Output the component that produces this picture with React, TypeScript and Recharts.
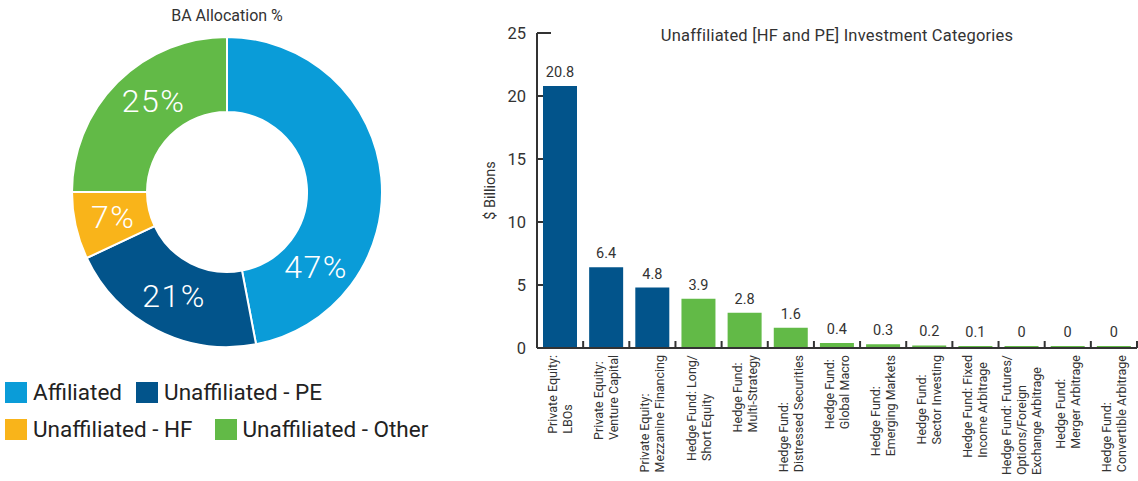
import { PieChart, Pie, Cell, BarChart, Bar, XAxis, YAxis, LabelList } from 'recharts'

const FONT = 'Roboto, "Open Sans", sans-serif'

const allocationNames = ['Affiliated', 'Unaffiliated - PE', 'Unaffiliated - HF', 'Unaffiliated - Other']
const allocationPcts = [47, 21, 7, 25]
const allocationColors = ['#0a9cd8', '#02548b', '#f9b41a', '#62ba47']

const categories = [
  'Private Equity:\nLBOs',
  'Private Equity:\nVenture Capital',
  'Private Equity:\nMezzanine Financing',
  'Hedge Fund: Long/\nShort Equity',
  'Hedge Fund:\nMulti-Strategy',
  'Hedge Fund:\nDistressed Securities',
  'Hedge Fund:\nGlobal Macro',
  'Hedge Fund:\nEmerging Markets',
  'Hedge Fund:\nSector Investing',
  'Hedge Fund: Fixed\nIncome Arbitrage',
  'Hedge Fund: Futures/\nOptions/Foreign\nExchange Arbitrage',
  'Hedge Fund:\nMerger Arbitrage',
  'Hedge Fund:\nConvertible Arbitrage',
]
const billions = [20.8, 6.4, 4.8, 3.9, 2.8, 1.6, 0.4, 0.3, 0.2, 0.1, 0, 0, 0]
const yTicks = [0, 5, 10, 15, 20, 25]

const pieData = allocationNames.map((name, i) => ({ name, value: allocationPcts[i] }))
const barData = categories.map((name, i) => ({ name, value: billions[i] }))

const PE_BLUE = '#02548b'
const HF_GREEN = '#62ba47'
const TICK_FONT = 12.5

let canvas: HTMLCanvasElement | null = null
function textWidth(s: string, font: string) {
  if (!canvas) canvas = document.createElement('canvas')
  const ctx = canvas.getContext('2d')!
  ctx.font = font
  return ctx.measureText(s).width
}

const RAD = Math.PI / 180
function PieLabel(props: any) {
  const { cx, cy, innerRadius, outerRadius, startAngle, endAngle, value } = props
  const span = Math.abs(startAngle - endAngle)
  const ang = endAngle + Math.min(span / 2, 39)
  const r = (innerRadius + outerRadius) / 2 - 1
  const x = cx + r * Math.cos(-ang * RAD)
  const y = cy + r * Math.sin(-ang * RAD)
  return (
    <text x={x} y={y} fill="#fff" fontSize={32} fontFamily={FONT} fontWeight={300} letterSpacing={1.5}
      textAnchor="middle" dominantBaseline="central">
      {value}%
    </text>
  )
}

function CategoryTick(props: any) {
  const { x, y, payload } = props
  const lines = String(payload.value).split('\n')
  const widest = Math.max(...lines.map((l) => textWidth(l, `${TICK_FONT}px Roboto`)))
  const bottom = y + 7 + widest
  const sep = x + (payload.offset ?? 23)
  return (
    <g>
      <line x1={sep} x2={sep} y1={y} y2={y - 7} stroke="#333" strokeWidth={2} />
      {lines.map((l, i) => {
        const lx = x + (i - (lines.length - 1) / 2) * 15
        return (
          <text key={i} x={lx} y={bottom} transform={`rotate(-90 ${lx} ${bottom})`}
            textAnchor="start" dominantBaseline="central" fontSize={TICK_FONT} fill="#333" fontFamily="Roboto">
            {l}
          </text>
        )
      })}
    </g>
  )
}

function ValueTick(props: any) {
  const { x, y, payload } = props
  const len = payload.value === yTicks[yTicks.length - 1] ? 14 : 6
  return (
    <g>
      <line x1={x} x2={x + len} y1={y} y2={y} stroke="#333" strokeWidth={2} />
      <text x={x - 11} y={y} textAnchor="end" dominantBaseline="central" fontSize={16.5} fill="#333" fontFamily={FONT}>
        {payload.value}
      </text>
    </g>
  )
}

function Legend() {
  const rows = [[0, 1], [2, 3]]
  const gaps = [14, 22]
  return (
    <div style={{ position: 'absolute', left: 5, top: 381, fontFamily: FONT, fontSize: 22.5, color: '#222' }}>
      {rows.map((row, r) => (
        <div key={r} style={{ display: 'flex', gap: gaps[r], height: 22, marginBottom: 15, alignItems: 'center' }}>
          {row.map((i) => (
            <div key={i} style={{ display: 'flex', alignItems: 'center', gap: 6 }}>
              <span style={{ width: 22, height: 21, background: allocationColors[i], display: 'inline-block' }} />
              <span style={{ lineHeight: '22px' }}>{allocationNames[i]}</span>
            </div>
          ))}
        </div>
      ))}
    </div>
  )
}

export default function App() {
  return (
    <div style={{ position: 'absolute', left: 0, top: 0, width: 1138, height: 481, background: '#fff', fontFamily: FONT }}>
      <div style={{ position: 'absolute', left: 0, top: 6, width: 454, textAlign: 'center', fontSize: 16, color: '#333' }}>
        BA Allocation %
      </div>
      <div style={{ position: 'absolute', left: 0, top: 0 }}>
        <PieChart width={460} height={370} margin={{ top: 0, right: 0, bottom: 0, left: 0 }}>
          <Pie data={pieData} dataKey="value" nameKey="name" cx={227} cy={192}
            innerRadius={80} outerRadius={155} startAngle={90} endAngle={-270}
            stroke="#fff" strokeWidth={2} label={PieLabel} labelLine={false} isAnimationActive={false}>
            {pieData.map((d, i) => <Cell key={d.name} fill={allocationColors[i]} />)}
          </Pie>
        </PieChart>
      </div>
      <Legend />

      <div style={{ position: 'absolute', left: 537, top: 26, width: 600, textAlign: 'center', fontSize: 16.5, color: '#333', letterSpacing: 0.2 }}>
        Unaffiliated [HF and PE] Investment Categories
      </div>
      <div style={{ position: 'absolute', left: 460, top: 0 }}>
        <BarChart width={678} height={481} data={barData} margin={{ top: 33, right: 1, left: 0, bottom: 0 }} barCategoryGap="13%">
          <XAxis dataKey="name" interval={0} height={133} tickSize={0} tickMargin={0} tickLine={false}
            axisLine={{ stroke: '#333', strokeWidth: 2 }} tick={(p: any) => <CategoryTick {...p} />} />
          <YAxis width={77} domain={[0, 25]} ticks={yTicks} tickSize={0} tickMargin={0} tickLine={false}
            axisLine={{ stroke: '#333', strokeWidth: 2 }} tick={(p: any) => <ValueTick {...p} />}
            label={(p: any) => {
              const vb = p.viewBox
              const lx = vb.x + 30
              const ly = vb.y + vb.height / 2
              return (
                <text x={lx} y={ly} transform={`rotate(-90 ${lx} ${ly})`} textAnchor="middle"
                  dominantBaseline="central" fontSize={14.5} fill="#333" fontFamily={FONT}>
                  $ Billions
                </text>
              )
            }} />
          <Bar dataKey="value" minPointSize={2} isAnimationActive={false}>
            {barData.map((d) => (
              <Cell key={d.name} fill={d.name.startsWith('Private Equity') ? PE_BLUE : HF_GREEN} />
            ))}
            <LabelList dataKey="value" position="top" offset={9} fill="#333" fontSize={14.5} fontFamily={FONT} />
          </Bar>
        </BarChart>
      </div>
    </div>
  )
}
